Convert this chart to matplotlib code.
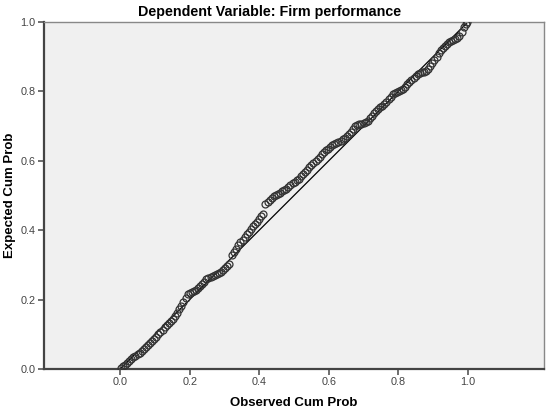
import numpy as np
import matplotlib
matplotlib.use("Agg")
import matplotlib.pyplot as plt

plt.rcParams['font.family'] = ['Liberation Sans', 'DejaVu Sans']

# observed / expected cumulative probabilities
observed = [
    0.003, 0.008, 0.014, 0.020, 0.026, 0.032, 0.038, 0.044, 0.050, 0.056,
    0.062, 0.068, 0.074, 0.080, 0.086, 0.092, 0.098, 0.104, 0.110, 0.116,
    0.122, 0.128, 0.134, 0.140, 0.146, 0.152, 0.158, 0.164, 0.170, 0.176,
    0.182, 0.188, 0.194, 0.200, 0.206, 0.212, 0.218, 0.224, 0.230, 0.236,
    0.242, 0.248, 0.254, 0.260, 0.266, 0.272, 0.278, 0.284, 0.290, 0.296,
    0.302, 0.308, 0.314,
    0.322, 0.328, 0.334, 0.340, 0.346, 0.352, 0.358, 0.364, 0.370, 0.376,
    0.382, 0.388, 0.394, 0.400, 0.406, 0.412,
    0.418, 0.424, 0.430, 0.436, 0.442, 0.448, 0.454, 0.460, 0.466, 0.472,
    0.478, 0.484, 0.490, 0.496, 0.502, 0.508, 0.514, 0.520, 0.526, 0.532,
    0.538, 0.544, 0.550, 0.556, 0.562, 0.568, 0.574, 0.580, 0.586, 0.592,
    0.598, 0.604, 0.610, 0.616, 0.622, 0.628, 0.634, 0.640, 0.646, 0.652,
    0.658, 0.664, 0.670, 0.676, 0.682, 0.688, 0.694, 0.700, 0.706, 0.712,
    0.718, 0.724, 0.730, 0.736, 0.742, 0.748, 0.754, 0.760, 0.766, 0.772,
    0.778, 0.784, 0.790, 0.796, 0.802, 0.808, 0.814, 0.820, 0.826, 0.832,
    0.838, 0.844, 0.850, 0.856, 0.862, 0.868, 0.874, 0.880, 0.886, 0.892,
    0.898, 0.904, 0.910, 0.916, 0.922, 0.928, 0.934, 0.940, 0.946, 0.952,
    0.958, 0.964, 0.970, 0.976, 0.982, 0.988, 0.994, 0.998,
]
expected = [
    0.002, 0.008, 0.012, 0.017, 0.024, 0.030, 0.035, 0.038, 0.042, 0.047,
    0.052, 0.057, 0.063, 0.069, 0.074, 0.080, 0.086, 0.093, 0.100, 0.106,
    0.113, 0.120, 0.126, 0.132, 0.139, 0.145, 0.153, 0.162, 0.172, 0.182,
    0.194, 0.205, 0.215, 0.220, 0.222, 0.226, 0.229, 0.233, 0.238, 0.244,
    0.251, 0.258, 0.263, 0.266, 0.268, 0.271, 0.274, 0.277, 0.281, 0.285,
    0.290, 0.296, 0.302,
    0.330, 0.338, 0.347, 0.356, 0.365, 0.373, 0.380, 0.388, 0.396, 0.404,
    0.411, 0.418, 0.424, 0.432, 0.440, 0.446,
    0.476, 0.481, 0.486, 0.493, 0.498, 0.502, 0.505, 0.508, 0.512, 0.516,
    0.520, 0.524, 0.530, 0.535, 0.540, 0.545, 0.549, 0.556, 0.562, 0.568,
    0.574, 0.581, 0.588, 0.595, 0.600, 0.605, 0.612, 0.619, 0.625, 0.630,
    0.634, 0.640, 0.645, 0.648, 0.651, 0.655, 0.658, 0.662, 0.667, 0.672,
    0.677, 0.684, 0.693, 0.700, 0.704, 0.706, 0.707, 0.708, 0.711, 0.716,
    0.722, 0.730, 0.737, 0.743, 0.749, 0.754, 0.759, 0.764, 0.770, 0.777,
    0.785, 0.792, 0.796, 0.799, 0.802, 0.805, 0.808, 0.814, 0.821, 0.828,
    0.834, 0.840, 0.845, 0.849, 0.852, 0.855, 0.857, 0.860, 0.866, 0.874,
    0.883, 0.891, 0.900, 0.910, 0.918, 0.925, 0.932, 0.938, 0.942, 0.945,
    0.948, 0.951, 0.955, 0.960, 0.972, 0.985, 0.995, 1.000,
]
ref_line = [0.0, 1.0]
ticks = [0.0, 0.2, 0.4, 0.6, 0.8, 1.0]
tick_labels = ["0.0", "0.2", "0.4", "0.6", "0.8", "1.0"]

fig = plt.figure(figsize=(5.5, 4.13), dpi=100)
ax = fig.add_axes([0.08, 0.1065, 0.909, 0.8402])
ax.set_facecolor("#f0f0f0")

ax.plot(ref_line, ref_line, color="black", linewidth=0.9, zorder=2)
ax.plot(observed, expected, linestyle="none", marker="o", markersize=5,
        markerfacecolor="none", markeredgecolor="#333333",
        markeredgewidth=0.9, zorder=3)

ax.set_xlim(-0.219, 1.219)
ax.set_ylim(0, 1)
ax.set_xticks(ticks)
ax.set_xticklabels(tick_labels)
ax.set_yticks(ticks)
ax.set_yticklabels(tick_labels)
ax.tick_params(direction="out", length=4, width=1.2, color="#555555",
               labelsize=7.8, labelcolor="#444444", pad=2)

for side in ["left", "bottom"]:
    ax.spines[side].set_color("#444444")
    ax.spines[side].set_linewidth(1.6)
for side in ["top", "right"]:
    ax.spines[side].set_color("#888888")
    ax.spines[side].set_linewidth(1.0)

ax.set_xlabel("Observed Cum Prob", fontsize=9.5, fontweight="bold")
ax.set_ylabel("Expected Cum Prob", fontsize=9.5, fontweight="bold")
ax.xaxis.set_label_coords(0.5, -0.098)
ax.yaxis.set_label_coords(-0.068, 0.5)
ax.xaxis.label.set_va("center")
ax.yaxis.label.set_va("center")
fig.text(270 / 550, 1 - 12 / 413, "Dependent Variable: Firm performance",
         ha="center", va="center", fontsize=10.3, fontweight="bold")

fig.savefig("out.png", dpi=100)
